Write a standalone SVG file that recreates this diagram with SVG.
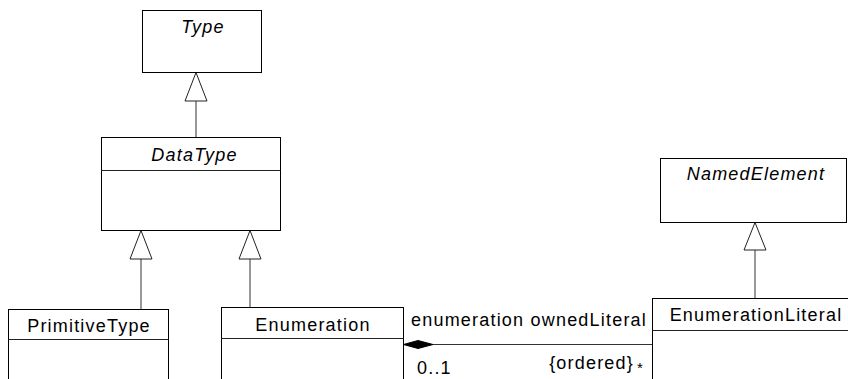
<svg xmlns="http://www.w3.org/2000/svg" width="848" height="379" viewBox="0 0 848 379">
<style>
.box{fill:#fff;stroke:#000;stroke-width:1}
.div{stroke:#222;stroke-width:1}
.conn{stroke:#333;stroke-width:1;fill:none}
.tri{fill:#fff;stroke:#222;stroke-width:1}
text{font-family:"Liberation Sans",Arial,sans-serif;font-size:18px;letter-spacing:1.2px;fill:#000}
.c{text-anchor:middle}
.i{font-style:italic}
.e{text-anchor:end}
</style>
<rect width="848" height="379" fill="#fff"/>
<g id="connectors">
<line class="conn" x1="196" y1="101" x2="196" y2="137"/>
<polygon class="tri" points="196,72.5 185,101 207,101"/>
<line class="conn" x1="141" y1="259" x2="141" y2="309"/>
<polygon class="tri" points="141,230.5 130,259 152,259"/>
<line class="conn" x1="250" y1="259" x2="250" y2="307"/>
<polygon class="tri" points="250,230.5 239,259 261,259"/>
<line class="conn" x1="755" y1="250" x2="755" y2="298"/>
<polygon class="tri" points="755,222.5 744,250 766,250"/>
<line class="conn" x1="433" y1="344.5" x2="652.5" y2="344.5"/>
<polygon points="403.5,344.5 418,340.5 433,344.5 418,348.5" fill="#000" stroke="#000" stroke-width="1"/>
<text x="411" y="326">enumeration</text>
<text x="647" y="326" class="e">ownedLiteral</text>
<text x="417" y="374">0..1</text>
<text x="634" y="369" class="e">{ordered}</text>
<text x="637" y="373" style="font-size:15px">*</text>
</g>
<g id="Type">
<rect class="box" x="142.5" y="10.5" width="119" height="62"/>
<text x="203" y="33" class="c i">Type</text>
</g>
<g id="DataType">
<rect class="box" x="101.5" y="137.5" width="179" height="93"/>
<line class="div" x1="101.5" y1="170.5" x2="280.5" y2="170.5"/>
<text x="194.5" y="161" class="c i">DataType</text>
</g>
<g id="PrimitiveType">
<rect class="box" x="8.5" y="309.5" width="160" height="100"/>
<line class="div" x1="8.5" y1="339.5" x2="168.5" y2="339.5"/>
<text x="89" y="331.5" class="c">PrimitiveType</text>
</g>
<g id="Enumeration">
<rect class="box" x="221.5" y="307.5" width="182" height="100"/>
<line class="div" x1="221.5" y1="338.5" x2="403.5" y2="338.5"/>
<text x="313" y="330.5" class="c">Enumeration</text>
</g>
<g id="NamedElement">
<rect class="box" x="660.5" y="158.5" width="186" height="64"/>
<text x="756" y="180" class="c i">NamedElement</text>
</g>
<g id="EnumerationLiteral">
<rect class="box" x="652.5" y="298.5" width="200" height="100"/>
<line class="div" x1="652.5" y1="330.5" x2="852" y2="330.5"/>
<text x="756" y="321" class="c">EnumerationLiteral</text>
</g>
</svg>
